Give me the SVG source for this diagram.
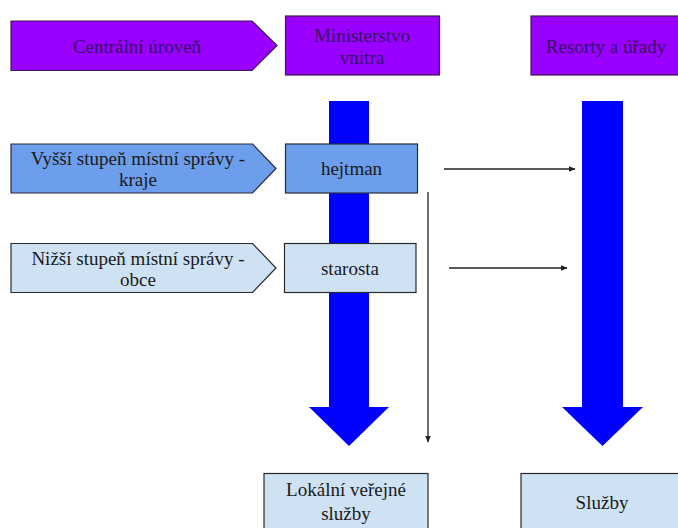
<svg xmlns="http://www.w3.org/2000/svg" width="678" height="528" viewBox="0 0 678 528" font-family="'Liberation Serif', 'DejaVu Serif', serif">
<style>
text{font-family:'Liberation Serif','DejaVu Serif',serif;font-size:19px;text-anchor:middle}
.pt{fill:#35105f}
.dk{fill:#1a1a1a}
.pu{fill:#9900ff;stroke:#3a1a4a;stroke-width:1.2}
.mb{fill:#6d9eeb;stroke:#2a2a3a;stroke-width:1.2}
.lb{fill:#cfe2f3;stroke:#2a2a2a;stroke-width:1.2}
.big{fill:#0000ff}
.ln{stroke:#222;stroke-width:1.3;fill:none}
</style>
<defs>
<marker id="ah" viewBox="0 0 10 10" refX="9" refY="5" markerWidth="7" markerHeight="7" markerUnits="userSpaceOnUse" orient="auto">
<path d="M0,1 L10,5 L0,9 z" fill="#222"/>
</marker>
</defs>
<g id="bar-left"><path class="big" d="M329,101 H369 V407 H389 L349,446 L309,407 H329 Z"/></g>
<g id="bar-right"><path class="big" d="M582,101 H623 V407 H643 L602.5,446 L562,407 H582 Z"/></g>
<g id="centralni">
<path class="pu" d="M11,21 H252 L277,45.5 L252,70.5 H11 Z"/>
<text class="pt" x="137" y="52.5">Centrální úroveň</text>
</g>
<g id="ministerstvo">
<rect class="pu" x="285.5" y="16" width="154" height="59"/>
<text class="pt" x="362" y="41.5">Ministerstvo</text>
<text class="pt" x="362" y="63.5">vnitra</text>
</g>
<g id="resorty">
<rect class="pu" x="531" y="16" width="152" height="59"/>
<text class="pt" x="606" y="52.5">Resorty a úřady</text>
</g>
<g id="vyssi">
<path class="mb" d="M11,144 H252.5 L276,168.5 L252.5,193 H11 Z"/>
<text class="dk" x="138" y="165">Vyšší stupeň místní správy -</text>
<text class="dk" x="138" y="186">kraje</text>
</g>
<g id="hejtman">
<rect class="mb" x="285.5" y="144" width="132" height="49"/>
<text class="dk" x="351.5" y="175">hejtman</text>
</g>
<g id="nizsi">
<path class="lb" d="M11,243.5 H252.5 L276,268 L252.5,292.5 H11 Z"/>
<text class="dk" x="138" y="265">Nižší stupeň místní správy -</text>
<text class="dk" x="138" y="285.5">obce</text>
</g>
<g id="starosta">
<rect class="lb" x="284.5" y="243.5" width="131.5" height="49"/>
<text class="dk" x="350" y="274.5">starosta</text>
</g>
<g id="lokalni">
<rect class="lb" x="264" y="473.5" width="164" height="70"/>
<text class="dk" x="346" y="495.5">Lokální veřejné</text>
<text class="dk" x="346" y="519.5">služby</text>
</g>
<g id="sluzby">
<rect class="lb" x="521" y="473.5" width="162" height="70"/>
<text class="dk" x="602" y="509">Služby</text>
</g>
<g id="connectors">
<line class="ln" x1="444" y1="169" x2="575" y2="169" marker-end="url(#ah)"/>
<line class="ln" x1="449" y1="268" x2="567" y2="268" marker-end="url(#ah)"/>
<line class="ln" x1="428" y1="192" x2="428" y2="442" marker-end="url(#ah)"/>
</g>
</svg>
